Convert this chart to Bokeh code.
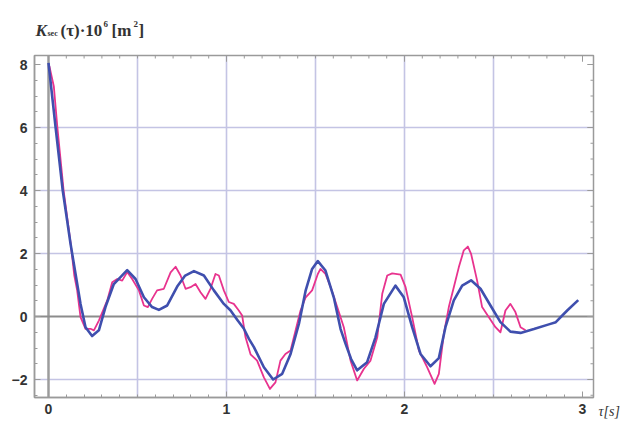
from bokeh.plotting import figure
from bokeh.models import FixedTicker, Label, Range1d
from bokeh.embed import file_html
from bokeh.resources import INLINE

# ---- data ----
t_blue = [0.0, 0.04, 0.08, 0.124, 0.152, 0.18, 0.208, 0.245, 0.283, 0.32, 0.367, 0.442,
          0.489, 0.536, 0.582, 0.62, 0.667, 0.723, 0.768, 0.817, 0.873, 0.929, 0.985,
          1.022, 1.06, 1.097, 1.126, 1.154, 1.21, 1.262, 1.313, 1.36, 1.407, 1.445,
          1.481, 1.513, 1.556, 1.603, 1.641, 1.669, 1.70, 1.734, 1.79, 1.837, 1.884,
          1.949, 1.996, 2.043, 2.09, 2.146, 2.193, 2.23, 2.277, 2.324, 2.374, 2.427,
          2.483, 2.539, 2.595, 2.652, 2.727, 2.811, 2.85, 2.914, 2.976]
k_blue = [8.05, 6.0, 4.0, 2.3, 1.35, 0.40, -0.34, -0.62, -0.44, 0.30, 1.03, 1.47,
          1.19, 0.61, 0.30, 0.21, 0.35, 0.95, 1.30, 1.44, 1.30, 0.83, 0.40,
          0.20, -0.10, -0.38, -0.71, -0.97, -1.61, -2.0, -1.82, -1.19, -0.23, 0.83,
          1.51, 1.76, 1.46, 0.60, -0.40, -0.87, -1.35, -1.71, -1.45, -0.66, 0.40,
          0.98, 0.61, -0.34, -1.19, -1.58, -1.32, -0.34, 0.51, 0.98, 1.15, 0.88,
          0.35, -0.18, -0.48, -0.52, -0.40, -0.25, -0.18, 0.19, 0.52]

t_pink = [0.005, 0.03, 0.05, 0.085, 0.125, 0.145, 0.161, 0.18, 0.208, 0.236, 0.255,
          0.283, 0.33, 0.358, 0.386, 0.414, 0.442, 0.47, 0.508, 0.536, 0.558, 0.582,
          0.61, 0.648, 0.686, 0.714, 0.742, 0.77, 0.798, 0.826, 0.854, 0.882, 0.91,
          0.938, 0.957, 0.985, 1.013, 1.041, 1.069, 1.088, 1.107, 1.135, 1.172, 1.21,
          1.244, 1.275, 1.303, 1.331, 1.36, 1.388, 1.416, 1.445, 1.481, 1.513, 1.528,
          1.556, 1.584, 1.622, 1.659, 1.697, 1.734, 1.772, 1.809, 1.847, 1.875, 1.903,
          1.931, 1.978, 2.006, 2.043, 2.081, 2.127, 2.169, 2.193, 2.221, 2.249, 2.277,
          2.305, 2.333, 2.356, 2.374, 2.408, 2.436, 2.474, 2.511, 2.539, 2.567, 2.595,
          2.623, 2.652, 2.68]
k_pink = [7.95, 7.3, 6.0, 4.0, 2.3, 1.3, 0.83, -0.02, -0.39, -0.39, -0.44,
          -0.13, 0.51, 1.09, 1.19, 1.14, 1.41, 1.19, 0.83, 0.35, 0.30, 0.56,
          0.83, 0.88, 1.40, 1.58, 1.30, 0.88, 0.93, 1.03, 0.77, 0.56, 0.88,
          1.35, 1.30, 0.83, 0.46, 0.40, 0.19, 0.03, -0.66, -1.2, -1.40, -1.93,
          -2.30, -2.09, -1.40, -1.19, -1.08, -0.44, 0.19, 0.61, 0.83, 1.35, 1.51,
          1.35, 0.95, 0.30, -0.34, -1.40, -2.03, -1.66, -1.40, -0.66, 0.72, 1.30,
          1.37, 1.33, 0.93, -0.02, -1.08, -1.61, -2.14, -1.82, -0.55, 0.30, 0.93,
          1.56, 2.10, 2.22, 1.99, 1.14, 0.30, -0.02, -0.34, -0.50, 0.19, 0.40,
          0.14, -0.34, -0.44]

x_major = [0, 1, 2, 3]
y_major = [-2, 0, 2, 4, 6, 8]
x_grid = [0.5, 1, 1.5, 2, 2.5]
y_grid = [-2, 2, 4, 6]

# ---- geometry: the Bokeh frame covers the whole canvas ----
W, H = 638, 422
PX0, PXU = 48, 178.0      # canvas px of t=0, px per unit
PY0, PYU = 316, 31.5      # canvas px of K=0, px per unit

def cx(px):
    return (px - PX0) / PXU

def cy(py):
    return (PY0 - py) / PYU

FX0, FX1 = cx(34), cx(593)     # plot box
FY1, FY0 = cy(55), cy(397)
ux, uy = 1 / PXU, 1 / PYU      # data units per pixel

p = figure(width=W, height=H, output_backend="svg", toolbar_location=None,
           x_range=Range1d(cx(0), cx(W)), y_range=Range1d(cy(H), cy(0)),
           min_border=0, min_border_left=0, min_border_right=0,
           min_border_top=0, min_border_bottom=0,
           background_fill_color="white", border_fill_color="white")
p.outline_line_color = None
p.xgrid.visible = False
p.ygrid.visible = False

frame_gray = "#9a9a9a"
grid_col = "#c4c4e4"

# grid lines inside the box
p.segment(x0=x_grid, y0=[FY0] * len(x_grid), x1=x_grid, y1=[FY1] * len(x_grid),
          line_color=grid_col, line_width=1.6)
p.segment(x0=[FX0] * len(y_grid), y0=y_grid, x1=[FX1] * len(y_grid), y1=y_grid,
          line_color=grid_col, line_width=1.6)

# axes through the origin
p.segment(x0=[0], y0=[FY0], x1=[0], y1=[FY1], line_color="#9c9c9c", line_width=2.5)
p.segment(x0=[FX0], y0=[0], x1=[FX1], y1=[0], line_color="#8c8c8c", line_width=2)

# frame box
p.quad(left=[FX0], right=[FX1], bottom=[FY0], top=[FY1], fill_color=None,
       line_color=frame_gray, line_width=1.5)

x_minor = [i / 10 for i in range(0, 31)]
y_minor = [i / 2 for i in range(-5, 17)]

# left / bottom: Bokeh axes fixed on the box edges
for ax in p.xaxis + p.yaxis:
    ax.axis_line_color = frame_gray
    ax.axis_line_width = 1.5
    ax.major_tick_in = 6
    ax.major_tick_out = 0
    ax.minor_tick_in = 3
    ax.minor_tick_out = 0
    ax.major_tick_line_color = frame_gray
    ax.minor_tick_line_color = frame_gray
    ax.major_label_text_font = "Liberation Sans"
    ax.major_label_text_font_style = "bold"
    ax.major_label_text_font_size = "14px"
    ax.major_label_text_color = "#333333"
p.xaxis.ticker = FixedTicker(ticks=x_major, minor_ticks=x_minor)
p.yaxis.ticker = FixedTicker(ticks=y_major, minor_ticks=y_minor)
p.yaxis.major_label_overrides = {-2: "\u22122"}
p.xaxis.fixed_location = FY0
p.yaxis.fixed_location = FX0
p.xaxis.bounds = (FX0, FX1)
p.yaxis.bounds = (FY0, FY1)
p.xaxis.major_label_standoff = 6
p.yaxis.major_label_standoff = 7

# inward ticks on the top and right edges of the box
xt = x_major + x_minor
xl = [6 if v in x_major else 3 for v in xt]
p.segment(x0=xt, y0=[FY1] * len(xt), x1=xt, y1=[FY1 - l * uy for l in xl],
          line_color=frame_gray, line_width=1)
yt = y_major + y_minor
yl = [6 if v in y_major else 3 for v in yt]
p.segment(x0=[FX1] * len(yt), y0=yt, x1=[FX1 - l * ux for l in yl], y1=yt,
          line_color=frame_gray, line_width=1)

# curves
p.line(t_pink, k_pink, line_color="#e8338e", line_width=1.8, line_join="round")
p.line(t_blue, k_blue, line_color="#3f4fae", line_width=2.6, line_join="round")

def txt(s, px, py, size, style="bold", font="Liberation Serif"):
    p.add_layout(Label(x=cx(px), y=cy(py), text=s, text_font=font,
                       text_font_size=size, text_font_style=style,
                       text_color="#333333", text_baseline="alphabetic",
                       text_align="left"))

txt("K", 35, 30, "17px", "bold italic")
txt("sec", 47, 33, "8px", "bold")
txt("(\u03c4)\u00b710", 60, 30, "17px")
txt("6", 103, 23, "9px")
txt("[m", 111, 30, "17px")
txt("2", 133, 23, "9px")
txt("]", 138, 30, "17px")

txt("\u03c4[s]", 598, 411, "14px", "italic")

open("out.html", "w").write(file_html(p, INLINE))
